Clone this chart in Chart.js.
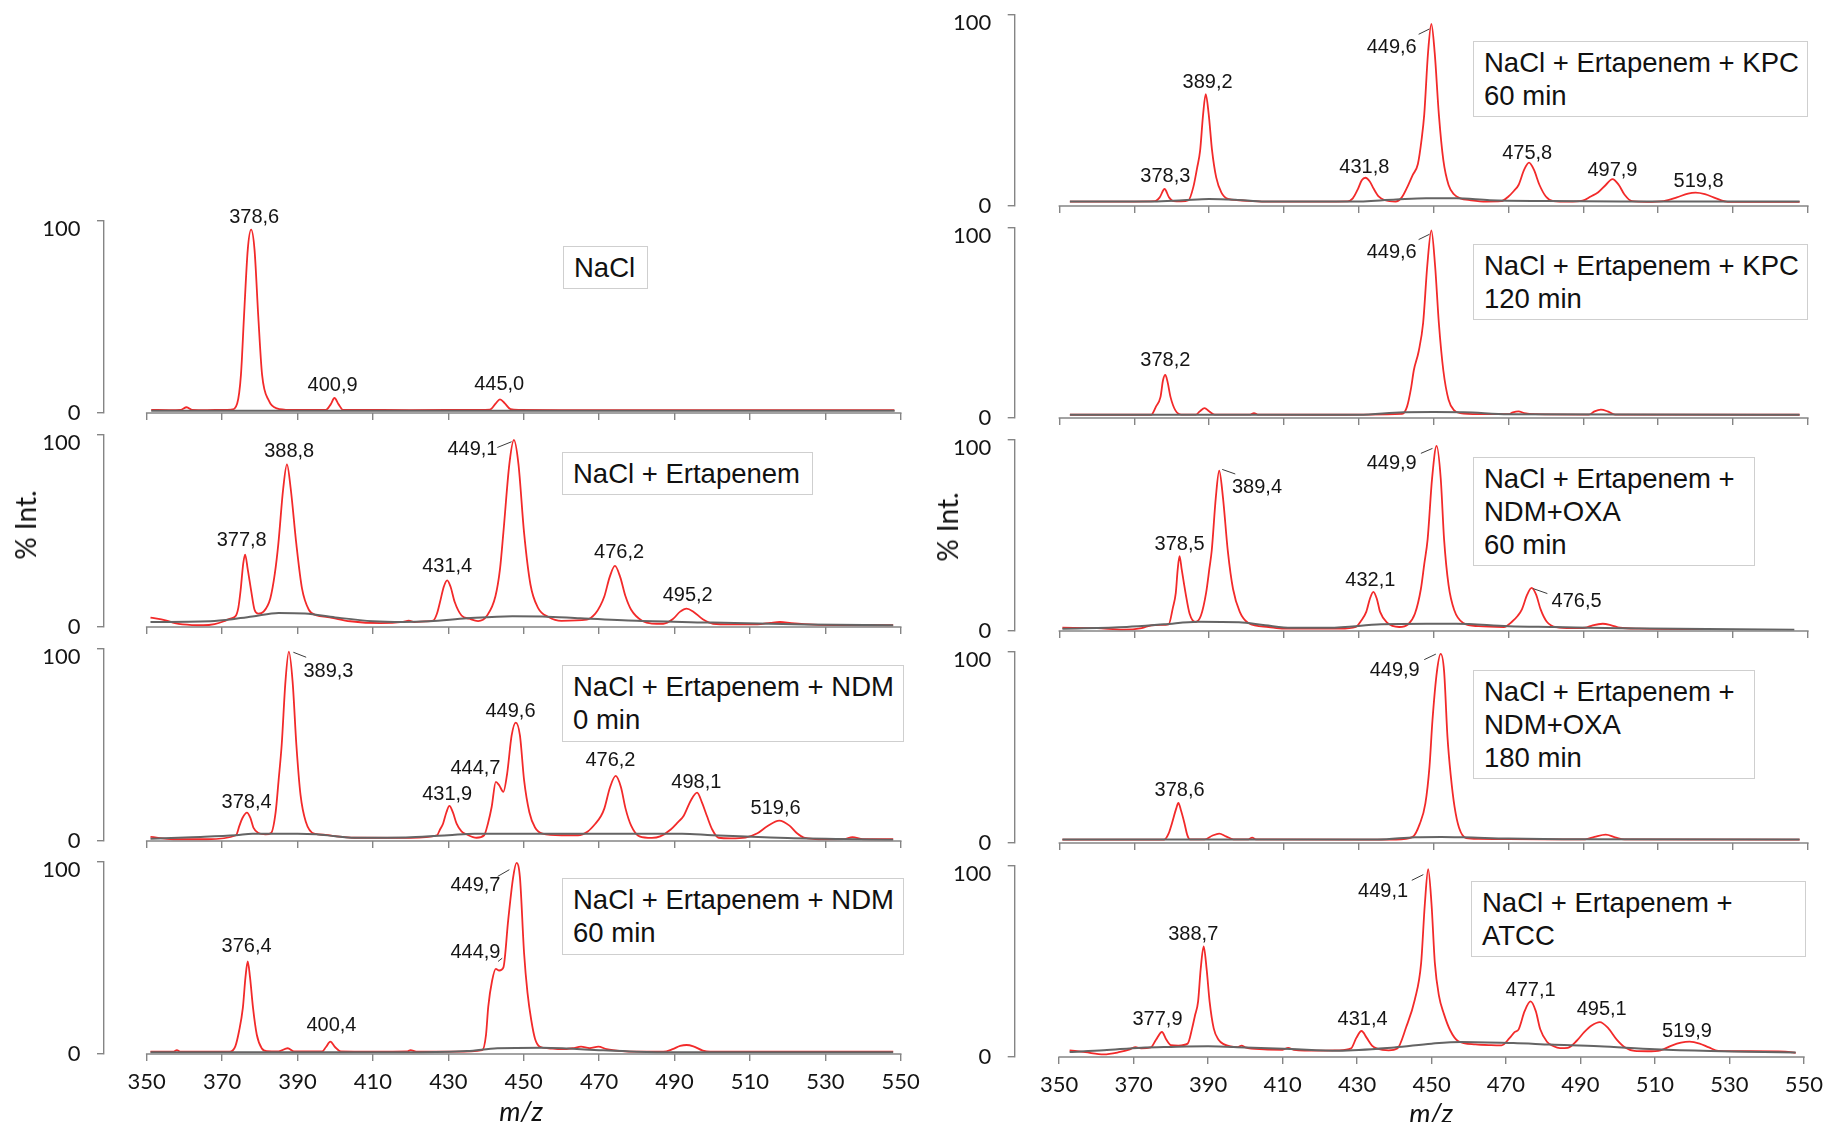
<!DOCTYPE html>
<html>
<head>
<meta charset="utf-8">
<script src="https://cdn.jsdelivr.net/npm/chart.js@4.4.1/dist/chart.umd.min.js"></script>
<style>
html,body{margin:0;padding:0;background:#fff;width:1831px;height:1122px;overflow:hidden;}
body{position:relative;font-family:"Liberation Sans",Arial,sans-serif;}
canvas{position:absolute;}
.box{position:absolute;box-sizing:border-box;border:1.5px solid #cfcfcf;background:#fff;font-size:27.5px;line-height:33px;padding:4px 0 0 10px;color:#111;white-space:nowrap;z-index:5;}
.ylab{position:absolute;font-family:Lato,"Liberation Sans",sans-serif;font-size:28px;color:#111;white-space:nowrap;transform:translate(-50%,-50%) rotate(-90deg);}
.xlab{position:absolute;font-family:Lato,"Liberation Sans",sans-serif;font-size:27px;font-style:italic;color:#111;white-space:nowrap;transform:translate(-50%,-50%);}
</style>
</head>
<body>
<script>
// ---------- shared axis data ----------
const xTicks = [350, 370, 390, 410, 430, 450, 470, 490, 510, 530, 550];
const yTicks = [0, 100];
const xTitle = "m/z";
const yTitle = "% Int.";

// ---------- panel titles ----------
const titleL1 = ["NaCl"];
const titleL2 = ["NaCl + Ertapenem"];
const titleL3 = ["NaCl + Ertapenem + NDM", "0 min"];
const titleL4 = ["NaCl + Ertapenem + NDM", "60 min"];
const titleR1 = ["NaCl + Ertapenem + KPC", "60 min"];
const titleR2 = ["NaCl + Ertapenem + KPC", "120 min"];
const titleR3 = ["NaCl + Ertapenem +", "NDM+OXA", "60 min"];
const titleR4 = ["NaCl + Ertapenem +", "NDM+OXA", "180 min"];
const titleR5 = ["NaCl + Ertapenem +", "ATCC"];

// ---------- spectra: [m/z, % intensity] ----------
const traceL1 = [[351.2,1.6],[356,1.5],[359,1.6],[360.6,3.0],[362,1.6],[366,1.5],[370,1.6],[372.5,1.8],[374.0,5],[375.0,20],[375.8,50],[376.8,85],[377.7,95.5],[378.6,85],[379.6,50],[380.6,20],[382.4,6.4],[384.5,2.4],[388,1.6],[395,1.6],[397.5,1.6],[398.8,4.5],[399.8,7.8],[400.9,4.5],[402.1,1.6],[405,1.6],[420,1.5],[438,1.6],[441,1.7],[442.6,5.0],[443.7,7.1],[445,5.0],[446.5,2.0],[448.8,1.6],[460,1.5],[480,1.5],[500,1.5],[520,1.5],[540,1.5],[548.3,1.5]];
const baseL1 = [[351.2,1.2],[400,1.2],[450,1.2],[500,1.2],[548.4,1.2]];

const traceL2 = [[351,4.9],[355,3.5],[357.5,2.0],[362,1.0],[365,0.9],[368,1.5],[370.5,3.0],[372,4.3],[373.5,5.5],[374.3,10],[374.9,19],[375.6,33],[376.1,37.7],[376.8,30],[377.7,19],[378.6,9],[379.6,7],[381,8],[382.8,15],[384,28],[384.9,43],[386.2,72],[387.2,84.7],[388.2,72],[389.7,43],[391.2,20],[393,9],[395.1,6],[398,5.2],[404,3.0],[412,2.0],[418,2.7],[419.5,3.3],[421,2.6],[424,2.9],[426,3.3],[427,7],[427.8,13],[428.8,21],[429.7,24.3],[430.6,21],[431.7,13],[433.5,6],[435.6,4.3],[437.9,3.1],[440.3,6],[442.5,16],[443.7,30],[444.6,49],[446.2,85],[447.4,97.4],[448.6,85],[450.1,49],[451.8,22],[453.8,10],[456.6,5.2],[460,3.2],[466.7,3.8],[469,7],[470.3,11],[471.4,16],[472.8,26],[474.2,31.8],[475.6,26],[477,16],[478.5,9],[481.5,3.1],[484,1.8],[487,1.7],[489.5,4],[491.5,8],[493.2,9.6],[495,8],[497.5,4],[500.2,1.7],[505,1.4],[512,1.4],[515.5,2.2],[518,2.6],[521,2.0],[527,1.2],[540,0.9],[548,0.9]];
const baseL2 = [[351,2.6],[368,3.1],[378,5.5],[385,7.3],[392,7.0],[400,5],[410,3],[418,2.6],[425,3],[435,4.5],[447,5.6],[455,5.5],[465,4.5],[480,3.2],[500,2.3],[525,1.3],[548,0.9]];

const traceL3 = [[351,2.1],[357,0.9],[366,0.9],[373.7,3.0],[374.6,8],[375.4,12],[376.6,14.8],[377.5,12],[378.3,7],[379.6,4.2],[381.5,3.5],[383,4.2],[384.2,15],[385.0,32],[385.8,50],[386.8,83],[387.7,98.6],[388.7,83],[389.7,50],[390.8,24],[392.2,10],[394.4,3.8],[397.5,3.2],[400,2.5],[405,1.7],[420,1.6],[427,3.0],[427.8,6],[428.6,9],[429.5,15],[430.3,18.3],[431.2,15],[432.2,9],[433.5,5],[434.8,3.5],[437.5,1.7],[439.5,3.0],[440.5,9],[441.5,17.7],[442.6,30.8],[443.5,29],[444.6,25.6],[445.6,35],[446.8,55],[447.9,61.7],[449.0,55],[450.1,31.7],[451.5,15],[453,7],[455,3.8],[460,3.0],[464.4,3.0],[467,5],[469,9],[470.5,13],[471.4,17],[472.9,28],[474.4,33.9],[475.8,28],[477,17],[478.5,8],[480.7,2.4],[484,1.6],[486.2,2.4],[489,6],[491,10],[492.4,13],[494.3,21],[496,25.2],[497.3,20],[498.6,13],[500,6],[501.7,1.7],[505,1.4],[508.8,1.8],[512,4],[514.5,7.5],[517.8,10.6],[520.5,8],[522.5,4],[524.3,1.8],[530,0.9],[535,1.0],[537.2,2.0],[540,0.9],[548,0.9]];
const baseL3 = [[351,1.2],[362,2.0],[373.7,3.0],[378,3.8],[390,3.8],[395,3.5],[400,2.5],[405,1.7],[420,2.0],[430,3.0],[437,3.8],[460,3.8],[480,3.8],[492,3.8],[500,3.0],[520,1.6],[548,0.7]];

const traceL4 = [[351,1.2],[357,1.2],[358,2.0],[359,1.2],[372,1.2],[373.5,4],[374.5,12],[375.5,24],[376.2,40],[376.8,48.2],[377.4,40],[378.2,24],[379.2,10],[380.5,3],[381.9,1.5],[385,1.4],[387.4,3.0],[389,1.4],[396.5,1.3],[397.5,3.5],[398.7,6.4],[400,3.5],[401.5,1.3],[410,1.2],[419,1.3],[420,2.0],[421.5,1.2],[432,1.2],[439,2.0],[440,10],[440.6,24.7],[441.6,38],[442.6,44.3],[443.5,43.5],[444.6,45],[445.9,70],[447.2,92],[448.1,99.5],[449,92],[450.1,52.5],[451,32],[452,17.7],[453,8],[454.3,3.8],[456.6,3.0],[460,2.5],[463,3.0],[465.2,3.8],[467.5,3.0],[469.8,3.8],[472,2.5],[476,1.5],[480,1.2],[487,1.2],[489.5,2.5],[491.5,4.2],[493.2,4.7],[495,4],[497.5,1.8],[499.5,1.2],[510,1.2],[548,1.2]];
const baseL4 = [[351,0.9],[420,0.9],[435,1.5],[443,3.0],[455,3.3],[462,2.8],[470,2.0],[480,1.2],[490,0.9],[548,0.9]];

const traceR1 = [[352.8,2.3],[370,2.3],[375.5,2.5],[376.8,4.5],[378.1,8.9],[379.3,4.5],[380.5,2.5],[382.5,2.4],[384.5,3.0],[385.8,10],[386.8,20],[387.6,29],[388.4,48],[389.1,58.6],[389.9,48],[390.8,29],[391.9,15],[393.3,7],[395,3.7],[398,3.0],[405,2.3],[420,2.3],[427,2.4],[428.4,4],[429.8,9],[430.8,13.5],[431.8,14.8],[432.9,13],[434,9],[435.3,5],[437,3.0],[439.8,2.3],[441.5,4.5],[443.0,10],[444.4,16.2],[445.8,22],[446.8,35],[447.5,48],[448.5,80],[449.4,95.3],[450.3,80],[451.4,48],[452.6,24],[454,11],[455.5,6],[457.1,4],[460,3.0],[464,2.3],[468,2.5],[470,5],[471.5,8],[472.7,11],[474.2,19],[475.5,22.7],[476.8,19],[478.3,11],[480,5],[482,2.6],[486,2.3],[489.8,2.8],[492,5],[494,7.2],[496,11],[497.8,14.1],[499.5,11],[501,6],[503,2.5],[507,2.2],[511.5,2.6],[515,4.5],[518,6.5],[520,7.0],[522.5,6.2],[525.5,4],[528.6,2.2],[540,2.2],[547.8,2.2]];
const baseR1 = [[352.8,2.3],[375,2.3],[383,3.0],[390,3.7],[397,3.3],[405,2.3],[428,2.3],[440,3.4],[448,4.0],[456,4.0],[465,3.0],[480,2.6],[500,2.4],[547.8,2.3]];

const traceR2 = [[352.8,1.7],[374.5,1.7],[375.8,6],[377,11],[377.7,20],[378.3,22.7],[378.9,19],[379.7,11],[381,4],[382.6,1.8],[386.5,1.8],[387.5,3.5],[388.8,5.2],[390,3.5],[391.5,1.8],[401,1.8],[402,2.6],[403,1.8],[420,1.7],[441.6,2.2],[442.9,6],[444.0,16],[444.7,25],[446.0,35],[447.2,50],[448.3,80],[449.4,98.8],[450.4,80],[451.4,50],[452.6,25],[454,9.6],[455.5,4],[457.1,2.6],[462,2.0],[470,2.0],[471.2,3.0],[472.7,3.5],[474.2,2.6],[477,2.0],[491.5,1.8],[493,3.5],[494.7,4.4],[496.5,3.5],[498.5,1.8],[547.8,1.7]];
const baseR2 = [[352.8,1.7],[430,1.7],[442,3.0],[450,3.1],[458,3.0],[470,2.0],[547.8,1.7]];

const traceR3 = [[350.8,1.7],[360,1.5],[367,0.7],[372,1.5],[374.6,3.0],[377,3.2],[379.2,3.5],[380.3,12],[381.1,20],[381.6,32],[382.1,39.2],[382.7,32],[383.7,20],[384.8,9],[386.3,4.7],[387.8,8],[389.2,20],[390.1,33],[390.7,42],[391.8,70],[392.7,83.9],[393.7,70],[395,42],[396.4,22],[398.2,10],[400.5,4.2],[405.9,2.1],[410,1.2],[425,1.2],[429.2,2.1],[430.5,5],[432,10],[433,17],[433.9,20.5],[434.8,17],[435.7,10],[437.5,4.5],[440.8,2.1],[443.2,3.5],[445,9],[446.6,22],[447.5,35],[448.4,48],[449.6,80],[450.8,96.9],[451.9,80],[452.8,48],[454,24],[455.5,11],[457.9,4.2],[462,2.5],[468.8,2.1],[471,5],[472.5,8],[473.6,11.3],[475,19],[476.2,22.6],[477.4,19],[478.6,11.3],[480.2,5],[482.8,2.0],[487,1.5],[490.5,1.7],[492.5,3.0],[495.2,3.8],[497.5,3.0],[499.8,1.7],[505,1.2],[520,1.0],[522.4,1.0]];
const baseR3 = [[350.8,1.2],[368,2.1],[378,3.5],[387,4.9],[398,4.6],[405,3.0],[412,1.7],[422,1.7],[436,3.5],[448,3.8],[456,3.8],[470,2.5],[482,2.1],[500,1.5],[546.4,0.7]];

const traceR4 = [[350.8,1.8],[378,1.8],[379.2,5],[380.1,10.5],[381.2,18],[381.8,21],[382.5,17],[383.4,10.5],[384.2,4],[384.9,1.9],[388.8,1.9],[390.8,3.8],[392.7,4.9],[394.5,3.5],[396.5,1.9],[400.5,1.9],[401.5,2.8],[402.5,1.9],[440,1.8],[444.4,3.2],[446.3,10],[447.8,20.7],[448.9,40],[449.7,64.4],[450.9,90],[451.9,99],[452.8,90],[453.7,55.7],[454.6,35],[455.6,18.9],[456.8,8],[458.7,2.6],[462,2.2],[470,2.0],[480,1.9],[490.5,1.9],[493,3.2],[496,4.4],[498.5,3.0],[501,1.9],[547.8,1.8]];
const baseR4 = [[350.8,1.8],[435,1.8],[445,3.0],[452,3.2],[458,3.0],[470,2.3],[490,1.9],[547.8,1.8]];

const traceR5 = [[352.8,3.5],[357,2.5],[362,1.4],[366,2.5],[369,4],[370.5,5.2],[372,4.5],[374.6,5.0],[376.0,9],[377.6,13.1],[378.8,9],[380,6.2],[382,6],[384.5,7],[385.7,15],[386.5,22],[387.3,29],[388.0,46],[388.8,57.9],[389.6,46],[390.4,29],[391.5,15],[392.8,9],[394.3,6.6],[396,5.5],[398,5.2],[399,6.0],[400,5.0],[405,4.0],[410,3.8],[411.5,4.8],[413,3.8],[420,3.3],[425,3.5],[428.4,4.5],[429.8,10],[431.2,13.6],[432.6,10],[434,6],[435.4,4.4],[438.5,3.5],[440.8,4.4],[443.2,15.7],[445.5,30],[447.2,49],[448.2,80],[449.1,98.3],[450,80],[450.9,49],[452,32],[453.3,22.7],[455,14],[457.1,8.4],[461.8,6.6],[466,6.2],[468.8,6.1],[471,10],[472.3,13],[473.4,14.5],[475,24],[476.6,29.1],[478,24],[479.2,14.5],[481,8],[482.8,5.6],[484.5,4.6],[486.6,4.8],[489,8.5],[491,13],[493,16.5],[495.2,18.3],[497.5,15],[499.8,9],[502,5],[504.5,3.2],[508,3.0],[511.5,3.5],[514.5,6],[517,7.5],[519.3,8.0],[522,7.0],[524.5,5],[527,3.2],[535,3.0],[545,2.8],[547.8,2.2]];
const baseR5 = [[352.8,2.6],[362,3.5],[372,4.9],[380,5.3],[390,5.6],[400,5.0],[412,4.2],[425,3.3],[440,5],[450,7.0],[458,7.9],[472,7.3],[482,6.5],[495,5.6],[510,4.0],[525,3.1],[535,2.8],[547.8,2.3]];

// ---------- peak annotations: [text, m/z, % int] (label centre) ----------
const peaksL1 = [["378,6",378.5,101.6],["400,9",399.3,14.3],["445,0",443.5,14.8]];
const peaksL2 = [["388,8",387.8,91.3],["449,1",436.4,92.2],["377,8",375.2,45.2],["431,4",429.7,31.3],["476,2",475.3,38.6],["495,2",493.5,16.2]];
const peaksL3 = [["389,3",398.2,88.2],["449,6",446.5,67.3],["444,7",437.2,37.7],["378,4",376.5,20.3],["431,9",429.7,24.2],["476,2",473.0,41.9],["498,1",495.8,30.6],["519,6",516.8,16.7]];
const peaksL4 = [["449,7",437.2,87.8],["376,4",376.5,56.0],["444,9",437.2,53.0],["400,4",399.0,15.1]];
const peaksR1 = [["449,6",438.8,83.0],["389,2",389.6,64.7],["378,3",378.3,15.4],["431,8",431.5,20.0],["475,8",475.0,27.6],["497,9",497.8,18.8],["519,8",520.8,12.7]];
const peaksR2 = [["449,6",438.8,87.1],["378,2",378.3,30.4]];
const peaksR3 = [["449,9",438.8,87.8],["389,4",402.8,75.0],["378,5",382.1,45.3],["432,1",433.1,26.6],["476,5",488.2,15.6]];
const peaksR4 = [["449,9",439.6,90.4],["378,6",382.1,27.7]];
const peaksR5 = [["449,1",437.0,86.4],["388,7",386.0,64.0],["377,9",376.4,19.5],["431,4",431.5,19.7],["477,1",476.6,34.6],["495,1",495.7,24.8],["519,9",518.6,13.4]];

// ---------- leader lines: [m/z1, int1, m/z2, int2] ----------
const leadL1 = [];
const leadL2 = [[443.0,93.5,446.8,96.5]];
const leadL3 = [[388.9,98.3,392.3,95.7]];
const leadL4 = [[443.1,92.5,446.2,96.0],[443.2,48.2,444.3,49.9]];
const leadR1 = [[446.0,89.9,448.9,92.7]];
const leadR2 = [[446.0,93.9,448.9,96.7]];
const leadR3 = [[446.6,93.0,449.7,95.6],[393.5,84.6,397.0,82.2],[476.6,22.2,480.4,19.6]];
const leadR4 = [[447.5,96.0,450.6,98.9]];
const leadR5 = [[444.7,92.5,447.8,95.5]];

// ---------- layout (pixels) ----------
const columns = [
  {left:0,   width:930, yW:104,  padR:29.3, xmin:338.67, ylabX:24.6, ylabY:525,  xlabX:521,  xlabY:1110},
  {left:920, width:911, yW:94.7, padR:23.2, xmin:338.05, ylabX:947,  ylabY:527,  xlabX:1431, xlabY:1112}
];
const panels = [
  {col:0, y100:221, y0:413, bottom:false, trace:traceL1, base:baseL1, peaks:peaksL1, lead:leadL1, title:titleL1, box:[563,246,85,43]},
  {col:0, y100:435, y0:627, bottom:false, trace:traceL2, base:baseL2, peaks:peaksL2, lead:leadL2, title:titleL2, box:[562,452,251,43]},
  {col:0, y100:649, y0:841, bottom:false, trace:traceL3, base:baseL3, peaks:peaksL3, lead:leadL3, title:titleL3, box:[562,665,342,77]},
  {col:0, y100:862, y0:1054,bottom:true,  trace:traceL4, base:baseL4, peaks:peaksL4, lead:leadL4, title:titleL4, box:[562,878,342,77]},
  {col:1, y100:15,  y0:206, bottom:false, trace:traceR1, base:baseR1, peaks:peaksR1, lead:leadR1, title:titleR1, box:[1473,41,335,76]},
  {col:1, y100:228, y0:418, bottom:false, trace:traceR2, base:baseR2, peaks:peaksR2, lead:leadR2, title:titleR2, box:[1473,244,335,76]},
  {col:1, y100:440, y0:631, bottom:false, trace:traceR3, base:baseR3, peaks:peaksR3, lead:leadR3, title:titleR3, box:[1473,457,282,109]},
  {col:1, y100:652, y0:843, bottom:false, trace:traceR4, base:baseR4, peaks:peaksR4, lead:leadR4, title:titleR4, box:[1473,670,282,109]},
  {col:1, y100:866, y0:1057,bottom:true,  trace:traceR5, base:baseR5, peaks:peaksR5, lead:leadR5, title:titleR5, box:[1471,881,335,76]}
];

const AXIS = '#858585';
const TXT = '#151515';
const NUMFONT = 'Lato, "Liberation Sans", sans-serif';
const LBLFONT = '"Liberation Sans", Arial, sans-serif';

function annotPlugin(p) {
  return {
    id: 'annot',
    afterDraw(chart) {
      const {ctx, chartArea: a, scales: {x, y}} = chart;
      ctx.save();
      // x axis line from first to last tick
      ctx.strokeStyle = AXIS; ctx.lineWidth = 1.6;
      ctx.beginPath();
      ctx.moveTo(x.getPixelForValue(xTicks[0]) - 0.8, a.bottom);
      ctx.lineTo(x.getPixelForValue(xTicks[xTicks.length - 1]) + 0.8, a.bottom);
      ctx.stroke();
      // y tick labels (top label kept inside, as in the original)
      ctx.fillStyle = TXT;
      ctx.font = '22px ' + NUMFONT;
      ctx.textAlign = 'right'; ctx.textBaseline = 'middle';
      yTicks.forEach(v => {
        const off = (v === y.max) ? 8 : 0;
        ctx.fillText(String(v), a.left - 23.5, y.getPixelForValue(v) + off);
      });
      // leader lines
      ctx.strokeStyle = '#3a3a3a'; ctx.lineWidth = 1;
      p.lead.forEach(([m1, i1, m2, i2]) => {
        ctx.beginPath();
        ctx.moveTo(x.getPixelForValue(m1), y.getPixelForValue(i1));
        ctx.lineTo(x.getPixelForValue(m2), y.getPixelForValue(i2));
        ctx.stroke();
      });
      // peak labels
      ctx.font = '20px ' + LBLFONT;
      ctx.textAlign = 'center'; ctx.textBaseline = 'middle';
      p.peaks.forEach(([t, m, i]) => {
        ctx.fillText(t, x.getPixelForValue(m), y.getPixelForValue(i));
      });
      ctx.restore();
    }
  };
}

panels.forEach(p => {
  const c = columns[p.col];
  const padTop = 34;
  const xH = p.bottom ? 44 : 12;
  const h = padTop + (p.y0 - p.y100) + xH;
  const cv = document.createElement('canvas');
  cv.width = c.width; cv.height = h;
  cv.style.left = c.left + 'px';
  cv.style.top = (p.y100 - padTop) + 'px';
  cv.style.width = c.width + 'px'; cv.style.height = h + 'px';
  document.body.appendChild(cv);

  new Chart(cv, {
    type: 'line',
    data: {
      datasets: [
        {data: p.base.map(([mz, v]) => ({x: mz, y: v})), borderColor: '#646464', borderWidth: 2,
         pointRadius: 0, cubicInterpolationMode: 'monotone', fill: false},
        {data: p.trace.map(([mz, v]) => ({x: mz, y: v})), borderColor: '#f22a2a', borderWidth: 1.8,
         pointRadius: 0, cubicInterpolationMode: 'monotone', fill: false}
      ]
    },
    options: {
      responsive: false, animation: false, devicePixelRatio: 1, events: [],
      layout: {padding: {top: padTop, left: 0, right: c.padR, bottom: 0}},
      plugins: {legend: {display: false}, tooltip: {enabled: false}, title: {display: false}},
      scales: {
        x: {
          type: 'linear', min: c.xmin, max: 550,
          afterBuildTicks: s => { s.ticks = xTicks.map(v => ({value: v})); },
          afterFit: s => { s.height = xH; },
          border: {display: false},
          grid: {display: true, drawOnChartArea: false, drawTicks: true, tickLength: 7, color: AXIS, lineWidth: 1.4},
          ticks: {display: p.bottom, padding: 8, autoSkip: false, maxRotation: 0, color: TXT,
                  font: {size: 22, family: NUMFONT}}
        },
        y: {
          type: 'linear', min: 0, max: 100,
          afterBuildTicks: s => { s.ticks = yTicks.map(v => ({value: v})); },
          afterFit: s => { s.width = c.yW; },
          border: {display: true, color: AXIS, width: 1.4},
          grid: {display: true, drawOnChartArea: false, drawTicks: true, tickLength: 7, color: AXIS, lineWidth: 1.4},
          ticks: {display: false}
        }
      }
    },
    plugins: [annotPlugin(p)]
  });

  const b = document.createElement('div');
  b.className = 'box';
  b.style.left = p.box[0] + 'px'; b.style.top = p.box[1] + 'px';
  b.style.width = p.box[2] + 'px'; b.style.height = p.box[3] + 'px';
  b.innerHTML = p.title.map(s => s.replace(/&/g, '&amp;')).join('<br>');
  document.body.appendChild(b);
});

columns.forEach(c => {
  const yl = document.createElement('div');
  yl.className = 'ylab'; yl.textContent = yTitle;
  yl.style.left = c.ylabX + 'px'; yl.style.top = c.ylabY + 'px';
  document.body.appendChild(yl);
  const xl = document.createElement('div');
  xl.className = 'xlab'; xl.textContent = xTitle;
  xl.style.left = c.xlabX + 'px'; xl.style.top = c.xlabY + 'px';
  document.body.appendChild(xl);
});
</script>
</body>
</html>
